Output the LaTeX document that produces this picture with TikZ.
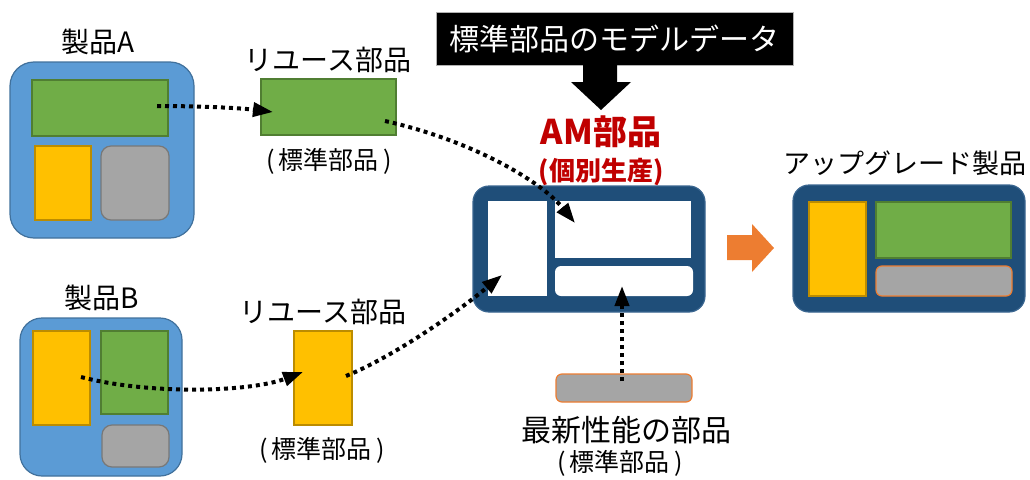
\documentclass[tikz,border=0pt]{standalone}
\usepackage{fontspec}
\setmainfont{Noto Sans CJK JP}
\usetikzlibrary{arrows.meta}
\definecolor{cBlue}{HTML}{5B9BD5}
\definecolor{cBlueD}{HTML}{41719C}
\definecolor{cGreen}{HTML}{70AD47}
\definecolor{cGreenD}{HTML}{507E32}
\definecolor{cYellow}{HTML}{FFC000}
\definecolor{cYellowD}{HTML}{BC8C00}
\definecolor{cGray}{HTML}{A5A5A5}
\definecolor{cGrayD}{HTML}{787878}
\definecolor{cNavy}{HTML}{1F4E79}
\definecolor{cNavyD}{HTML}{3A6690}
\definecolor{cOrange}{HTML}{ED7D31}
\definecolor{cRed}{HTML}{C00000}
\begin{document}
\begin{tikzpicture}[x=1pt,y=-1pt,
  part/.style={draw, line width=1.2pt, inner sep=0pt, outer sep=0pt},
  prod/.style={part, fill=cBlue, draw=cBlueD, rounded corners=24pt},
  navy/.style={part, fill=cNavy, draw=cNavyD, rounded corners=16pt},
  hole/.style={fill=white, draw=none, inner sep=0pt, outer sep=0pt},
  grn/.style={part, fill=cGreen, draw=cGreenD},
  ylw/.style={part, fill=cYellow, draw=cYellowD},
  gry/.style={part, fill=cGray, draw=cGrayD, rounded corners=10pt},
  newp/.style={part, fill=cGray, draw=cOrange, rounded corners=6pt},
  lbl/.style={font=\fontsize{28}{30}\selectfont, inner sep=0pt},
  sublbl/.style={font=\fontsize{25}{27}\selectfont, inner sep=0pt},
  dotarrow/.style={line width=4pt, dash pattern=on 4pt off 4pt,
    -{Triangle[length=20pt,width=14pt]}}
]
\useasboundingbox (0,0) rectangle (1030,479);

% ---------- Product A ----------
\node[prod, minimum width=184pt, minimum height=176pt] (pA) at (102,150) {};
\node[grn, minimum width=136pt, minimum height=56pt] (gA) at (100,108) {};
\node[ylw, minimum width=56pt, minimum height=74pt] (yA) at (63,183) {};
\node[gry, minimum width=68pt, minimum height=74pt] (sA) at (135,183) {};
\node[lbl] (tA) at (98,42) {製品A};

% reuse green
\node[grn, minimum width=135pt, minimum height=56pt] (rG) at (328.5,107) {};
\node[lbl] (trG) at (328,60) {リユース部品};
\node[sublbl] (srG) at (329,161) {(\,標準部品\,)};

% ---------- Product B ----------
\node[prod, rounded corners=22pt, minimum width=162pt, minimum height=158pt] (pB) at (101,397) {};
\node[ylw, minimum width=57pt, minimum height=94pt] (yB) at (61.5,378) {};
\node[grn, minimum width=67pt, minimum height=83pt] (gB) at (134.5,372.5) {};
\node[gry, minimum width=67pt, minimum height=42pt] (sB) at (135.5,446) {};
\node[lbl] (tB) at (102,298) {製品B};

% reuse yellow
\node[ylw, minimum width=58pt, minimum height=94pt] (rY) at (323,378) {};
\node[lbl] (trY) at (323,312) {リユース部品};
\node[sublbl] (srY) at (322,450) {(\,標準部品\,)};

% ---------- model data ----------
\node[fill=black, draw=gray!60, line width=0.8pt, minimum width=357pt, minimum height=53pt,
      inner sep=0pt, text=white, font=\fontsize{30}{32}\selectfont] (md) at (614.5,38.5) {標準部品のモデルデータ};
\fill[black] (583,65) -- (617,65) -- (617,82) -- (631,82) -- (601,110) -- (571,82) -- (583,82) -- cycle;

% ---------- AM part ----------
\node[font=\fontsize{34}{36}\selectfont\bfseries, text=cRed, inner sep=0pt] (am) at (601,132) {AM部品};
\node[font=\fontsize{26}{28}\selectfont\bfseries, text=cRed, inner sep=0pt] (am2) at (601,172) {(個別生産)};
\node[navy, minimum width=232pt, minimum height=126pt] (AM) at (589,249) {};
\node[hole, minimum width=59pt, minimum height=95pt] (amL) at (517.5,248.5) {};
\node[hole, minimum width=136pt, minimum height=57pt] (amT) at (623,229.5) {};
\node[hole, rounded corners=6pt, minimum width=138pt, minimum height=30pt] (amB) at (624,281) {};

% ---------- orange arrow ----------
\fill[cOrange] (727,235) -- (752,235) -- (752,224) -- (774,248) -- (752,272) -- (752,260) -- (727,260) -- cycle;

% ---------- upgraded product ----------
\node[lbl, font=\fontsize{27}{29}\selectfont] (tU) at (905,163) {アップグレード製品};
\node[navy, minimum width=232pt, minimum height=127pt] (UP) at (909,248.5) {};
\node[ylw, minimum width=57pt, minimum height=94pt] (uY) at (837.5,249) {};
\node[grn, minimum width=135pt, minimum height=56pt] (uG) at (943.5,230) {};
\node[newp, minimum width=136pt, minimum height=30pt] (uS) at (944,281) {};

% ---------- latest part ----------
\node[newp, minimum width=136pt, minimum height=28pt] (nP) at (624,388) {};
\node[lbl, font=\fontsize{30}{32}\selectfont] (tN) at (626,430) {最新性能の部品};
\node[sublbl, font=\fontsize{25}{27}\selectfont] (sN) at (620,463) {(\,標準部品\,)};

% ---------- connectors ----------
\coordinate (a1s) at (157,106);
\coordinate (a1e) at (273,112);
\coordinate (a2s) at (385,121);
\coordinate (a2e) at (575,223);
\coordinate (b1s) at (81,377);
\coordinate (b1e) at (303,372);
\coordinate (b2s) at (346,376);
\coordinate (b2e) at (502,275);
\coordinate (ns) at (622,381);
\coordinate (ne) at (622,286);

\draw[dotarrow] (a1s) .. controls (200,106) and (240,108) .. (a1e);
\draw[dotarrow] (a2s) .. controls (470,140) and (540,180) .. (a2e);
\draw[dotarrow] (b1s) .. controls (150,395) and (250,392) .. (b1e);
\draw[dotarrow] (b2s) .. controls (395,356) and (460,310) .. (b2e);
\draw[dotarrow] (ns) -- (ne);
\end{tikzpicture}
\end{document}
